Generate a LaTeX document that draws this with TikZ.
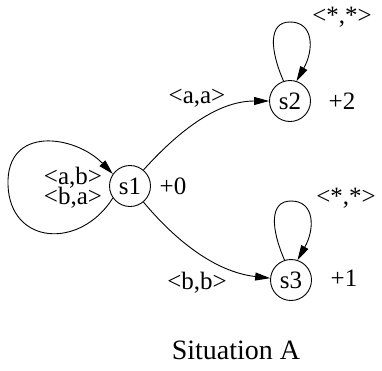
\documentclass[tikz,border=0pt]{standalone}
\usepackage{fontspec}
\setmainfont{Liberation Serif}
\usetikzlibrary{arrows.meta}
\begin{document}
\begin{tikzpicture}[x=1pt,y=-1pt,
  state/.style={circle,draw,line width=0.9pt,minimum size=41pt,inner sep=0pt,font=\fontsize{25}{27}\selectfont},
  lbl/.style={font=\fontsize{25}{27}\selectfont,inner sep=0pt},
  edge/.style={-{Triangle[length=15pt,width=8pt]},line width=0.9pt}]
\useasboundingbox (0,0) rectangle (382,370);
\node[state] (s1) at (130,186) {s1};
\node[state] (s2) at (290,101) {s2};
\node[state] (s3) at (291,280) {s3};
\node[lbl] (w1) at (173,186) {+0};
\node[lbl] (w2) at (342,101) {+2};
\node[lbl] (w3) at (344,278) {+1};
\node[lbl] (l12) at (197,98) {<a,a>};
\node[lbl] (l13) at (197,283) {<b,b>};
\node[lbl] (l11a) at (73,178) {<a,b>};
\node[lbl] (l11b) at (73,198) {<b,a>};
\node[lbl] (l22) at (342,17) {<*,*>};
\node[lbl] (l33) at (346,198) {<*,*>};
\node[font=\fontsize{28}{30}\selectfont] (cap) at (236,350) {Situation A};
\draw[edge] (s1.50) .. controls (175,135) and (215,101) .. (s2.west);
\draw[edge] (s1.-50) .. controls (175,240) and (215,272) .. (s3.175);
\draw[edge] (s1.215) .. controls (80,250) and (10,245) .. (8,185) .. controls (6,125) and (75,135) .. (s1.145);
\draw[edge] (s2.108) .. controls (270,50) and (268,22) .. (290,22) .. controls (314,22) and (314,50) .. (s2.72);
\draw[edge] (s3.108) .. controls (271,229) and (269,201) .. (291,201) .. controls (315,201) and (315,229) .. (s3.72);
\end{tikzpicture}
\end{document}
